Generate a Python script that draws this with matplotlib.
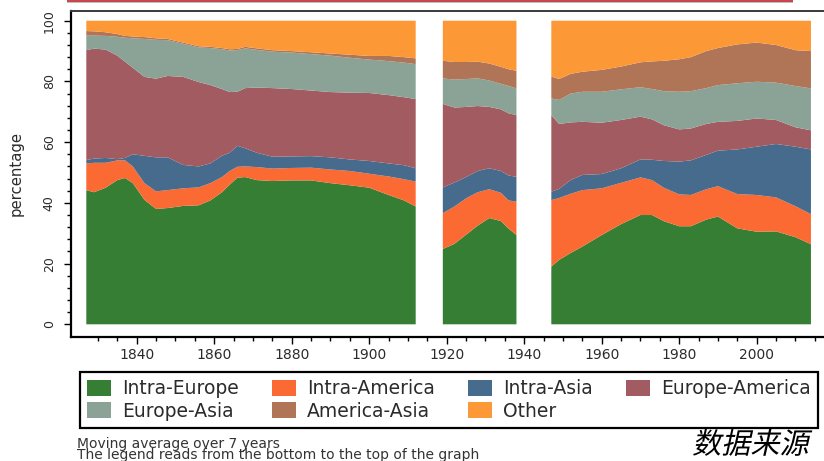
import matplotlib
matplotlib.use("Agg")
import matplotlib.pyplot as plt
import matplotlib.patches as mpatches
from matplotlib import patheffects
from matplotlib.transforms import Affine2D
import numpy as np

plt.rcParams['font.family'] = ['DejaVu Sans']

series_names = ['Intra-Europe', 'Intra-America', 'Intra-Asia', 'Europe-America',
                'Europe-Asia', 'America-Asia', 'Other']
colors = ['#367e34', '#fb6a32', '#476b8c', '#a25b60', '#8ba397', '#b07456', '#fc9836']

# first globalisation period
years_a = [1827, 1829, 1832, 1835, 1837, 1839, 1842, 1845, 1848, 1852, 1856, 1859, 1862,
           1864, 1866, 1868, 1871, 1875, 1880, 1885, 1890, 1895, 1900, 1905, 1909, 1912]
intra_europe_a = [44.2, 43.5, 45.0, 47.5, 48.2, 46.5, 41.0, 38.0, 38.3, 39.0, 39.2, 40.8, 43.5,
                  46.0, 48.3, 48.5, 47.5, 47.2, 47.4, 47.4, 46.5, 45.8, 45.0, 42.6, 40.8, 38.8]
intra_america_a = [8.8, 9.7, 8.2, 6.5, 5.8, 5.5, 5.5, 5.8, 5.9, 5.8, 5.9, 5.7, 5.0,
                   4.5, 3.6, 3.5, 4.3, 4.1, 4.1, 4.2, 4.5, 4.7, 4.6, 6.1, 7.0, 8.2]
intra_asia_a = [1.1, 1.4, 1.6, 0.4, 0.8, 4.0, 9.0, 11.2, 10.8, 7.7, 6.9, 6.5, 7.0,
                6.0, 6.9, 6.0, 4.7, 3.9, 3.8, 3.8, 4.0, 3.8, 4.2, 4.3, 4.6, 4.4]
europe_america_a = [36.2, 36.2, 35.7, 34.1, 31.7, 28.5, 26.0, 25.9, 26.8, 29.0, 27.8, 25.8, 22.0,
                    20.0, 17.8, 19.8, 21.5, 22.6, 22.2, 21.6, 21.5, 22.0, 22.4, 22.5, 22.4, 22.8]
europe_asia_a = [4.8, 4.3, 4.5, 6.2, 7.9, 9.7, 12.5, 12.8, 11.8, 10.9, 11.4, 12.2, 13.1,
                 13.7, 13.7, 13.1, 12.4, 12.0, 12.0, 12.0, 12.0, 11.5, 11.0, 11.2, 11.4, 11.5]
america_asia_a = [1.5, 1.4, 1.2, 0.9, 0.6, 0.6, 0.6, 0.5, 0.4, 0.4, 0.4, 0.4, 0.4,
                  0.4, 0.4, 0.5, 0.5, 0.5, 0.5, 0.6, 0.7, 1.0, 1.2, 1.7, 1.8, 1.9]
other_a = [3.4, 3.5, 3.8, 4.4, 5.0, 5.2, 5.4, 5.8, 6.0, 7.2, 8.4, 8.6, 9.0,
           9.4, 9.3, 8.6, 9.1, 9.7, 10.0, 10.4, 10.8, 11.2, 11.6, 11.6, 12.0, 12.4]

# interwar
years_b = [1919, 1922, 1925, 1928, 1931, 1934, 1936, 1938]
intra_europe_b = [24.8, 26.5, 29.5, 32.5, 35.0, 34.0, 31.5, 29.4]
intra_america_b = [11.8, 12.3, 12.0, 11.0, 9.5, 9.3, 9.3, 11.0]
intra_asia_b = [8.5, 7.9, 7.0, 7.0, 6.9, 7.2, 8.2, 8.2]
europe_america_b = [27.5, 24.7, 23.1, 21.4, 20.2, 20.3, 20.5, 20.3]
europe_asia_b = [8.4, 9.2, 9.2, 9.1, 8.7, 8.4, 9.0, 8.8]
america_asia_b = [5.8, 5.8, 5.6, 5.5, 5.6, 5.6, 5.5, 5.8]
other_b = [13.2, 13.6, 13.6, 13.5, 14.1, 15.2, 16.0, 16.5]

# post-war
years_c = [1947, 1949, 1952, 1955, 1960, 1965, 1970, 1973, 1976, 1980, 1983, 1987, 1990,
           1995, 2000, 2005, 2010, 2014]
intra_europe_c = [19.0, 21.2, 23.5, 25.6, 29.4, 33.0, 36.0, 36.0, 34.0, 32.3, 32.3, 34.5, 35.5,
                  31.6, 30.5, 30.6, 28.7, 26.4]
intra_america_c = [21.9, 20.4, 19.5, 18.6, 15.4, 13.6, 12.4, 11.5, 11.0, 10.5, 10.3, 10.0, 10.0,
                   11.3, 12.1, 11.2, 10.2, 9.9]
intra_asia_c = [2.8, 3.0, 4.5, 5.0, 4.7, 4.8, 5.9, 6.7, 8.8, 10.8, 11.4, 11.3, 11.7,
                14.7, 15.9, 17.6, 19.6, 21.3]
europe_america_c = [25.2, 21.4, 19.0, 17.5, 16.9, 15.9, 14.1, 13.3, 11.8, 10.6, 10.5, 10.2, 9.5,
                    9.4, 9.3, 7.9, 6.4, 6.3]
europe_asia_c = [5.5, 7.9, 9.5, 9.9, 10.2, 10.1, 9.7, 10.0, 11.2, 12.4, 12.3, 11.8, 12.1,
                 12.4, 12.1, 12.3, 13.6, 13.8]
america_asia_c = [7.2, 6.9, 6.5, 6.6, 7.2, 7.5, 8.2, 9.1, 10.0, 10.7, 11.2, 12.2, 12.2,
                  12.8, 12.9, 12.4, 11.8, 12.3]
other_c = [18.4, 19.2, 17.5, 16.8, 16.2, 15.1, 13.7, 13.4, 13.2, 12.7, 12.0, 10.0, 9.0,
           7.8, 7.2, 8.0, 9.7, 10.0]

segments = [
    (years_a, [intra_europe_a, intra_america_a, intra_asia_a, europe_america_a,
               europe_asia_a, america_asia_a, other_a]),
    (years_b, [intra_europe_b, intra_america_b, intra_asia_b, europe_america_b,
               europe_asia_b, america_asia_b, other_b]),
    (years_c, [intra_europe_c, intra_america_c, intra_asia_c, europe_america_c,
               europe_asia_c, america_asia_c, other_c]),
]


class Slant(patheffects.AbstractPathEffect):
    # fake italic for the CJK font (it has no italic face)
    def __init__(self, shear=0.22):
        super().__init__()
        self.shear = shear

    def draw_path(self, renderer, gc, tpath, affine, rgbFace=None):
        skew = Affine2D(np.array([[1.0, self.shear, 0.0], [0.0, 1.0, 0.0], [0.0, 0.0, 1.0]]))
        renderer.draw_path(gc, tpath, skew + affine, rgbFace)


W, H = 824, 461
fig = plt.figure(figsize=(W / 100, H / 100), dpi=100)
ax = fig.add_axes([71 / W, 1 - 336.7 / H, (834.2 - 71) / W, (336.7 - 11) / H])

for yrs, vals in segments:
    ax.stackplot(yrs, *vals, colors=colors, linewidth=0, antialiased=True)

ax.set_xlim(1823.05, 2020.0)
ax.set_ylim(-4.08, 103.2)

ax.set_xticks(np.arange(1840, 2001, 20))
ax.set_xticks(np.arange(1830, 2016, 5), minor=True)
ax.set_yticks(np.arange(0, 101, 20))
ax.set_yticks(np.arange(0, 101, 4), minor=True)
ax.tick_params(axis='both', which='major', direction='out', length=5, width=1.0, color='black')
ax.tick_params(axis='both', which='minor', direction='out', length=3, width=1.0, color='black')
ax.tick_params(axis='x', which='major', pad=3, labelsize=10, labelcolor='#2b2b2b')
ax.tick_params(axis='y', which='major', pad=6, labelsize=9, labelcolor='#2b2b2b')
for lab in ax.get_yticklabels():
    lab.set_rotation(90)
    lab.set_va('center')

for side in ['left', 'bottom']:
    ax.spines[side].set_linewidth(1.6)
    ax.spines[side].set_color('black')
ax.spines['top'].set_linewidth(1.4)
ax.spines['top'].set_color('#3a3a3a')
ax.spines['right'].set_visible(False)

fig.text(16.5 / W, 1 - 174 / H, 'percentage', rotation=90, ha='center', va='center',
         fontsize=10.7, color='#2b2b2b')

# legend filled row by row (matplotlib fills columns)
order = [0, 4, 1, 5, 2, 6, 3]
handles = [mpatches.Patch(facecolor=colors[i], edgecolor='none') for i in order]
labels = [series_names[i] for i in order]
leg = fig.legend(handles, labels, loc='upper left', ncol=4,
                 bbox_to_anchor=(80 / W, 1 - 372 / H), bbox_transform=fig.transFigure,
                 borderaxespad=0, fontsize=13.5, frameon=True, fancybox=False,
                 edgecolor='black', framealpha=1, borderpad=0.38,
                 handlelength=1.28, handleheight=0.96, handletextpad=0.6,
                 columnspacing=1.75, labelspacing=0.18)
leg.get_frame().set_linewidth(1.6)
for t in leg.get_texts():
    t.set_color('#2b2b2b')

fig.text(77 / W, 1 - 437 / H,
         'Moving average over 7 years\nThe legend reads from the bottom to the top of the graph',
         fontsize=10, color='#333333', ha='left', va='top', linespacing=0.72)

fig.text(692 / W, 1 - 460.5 / H, '数据来源', fontsize=21, family=['Noto Sans CJK SC'],
         color='black', ha='left', va='bottom', path_effects=[Slant(0.22)])

# cropped red banner at the top
fig.patches.append(mpatches.Rectangle((67 / W, 1 - 3.5 / H), (793 - 67) / W, 1.5 / H,
                                      transform=fig.transFigure, facecolor='#bdbdbd',
                                      edgecolor='none'))
fig.patches.append(mpatches.Rectangle((67 / W, 1 - 2 / H), (793 - 67) / W, 2 / H,
                                      transform=fig.transFigure, facecolor='#c8474d',
                                      edgecolor='none'))

fig.savefig('out.png', dpi=100)
